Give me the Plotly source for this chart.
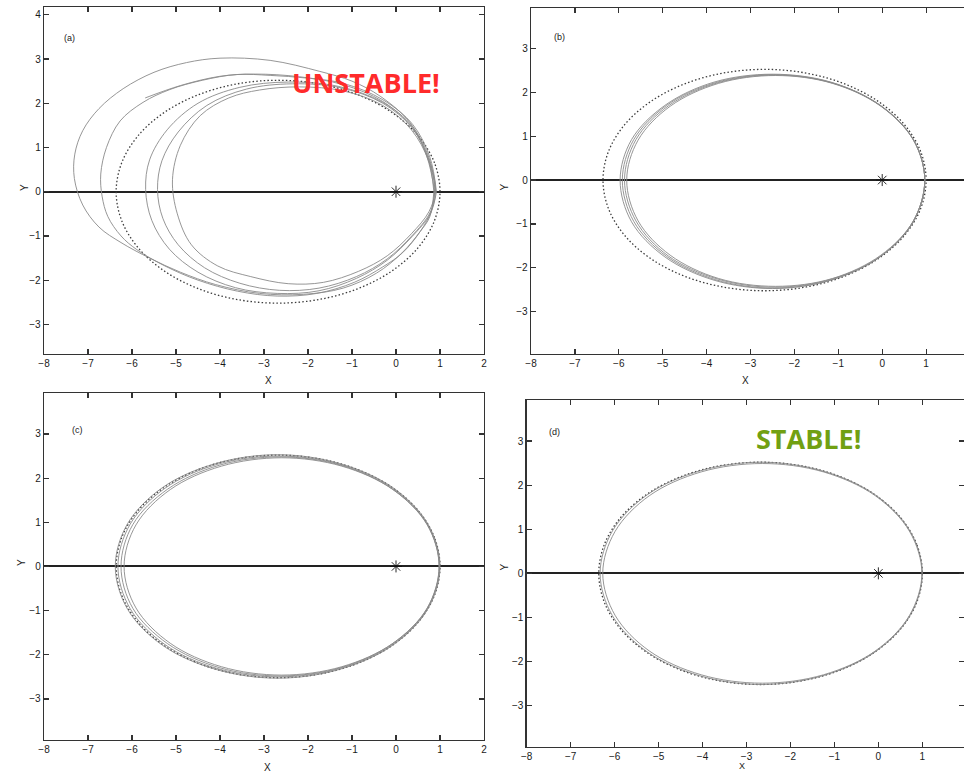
import plotly.graph_objects as go

# ---------------- data ----------------
# reference (dotted) Kepler orbit, same in all panels
ref_x = [1.00, 0.875, 0.507, -0.078, -0.84, -1.728, -2.68, -3.632, -4.52, -5.282, -5.867, -6.235, -6.36,
         -6.235, -5.867, -5.282, -4.52, -3.632, -2.68, -1.728, -0.84, -0.078, 0.507, 0.875, 1.00]
ref_y = [0.0, 0.652, 1.26, 1.782, 2.182, 2.434, 2.52, 2.434, 2.182, 1.782, 1.26, 0.652, 0.0,
         -0.652, -1.26, -1.782, -2.182, -2.434, -2.52, -2.434, -2.182, -1.782, -1.26, -0.652, 0.0]

# panel (a): unstable trajectory, loop by loop
a1_x = [0.88, 0.74, 0.35, -0.30, -1.20, -2.20, -3.10, -3.80, -4.45, -4.90, -5.08, -4.97, -4.65, -4.05, -3.30, -2.45, -1.65, -0.85, -0.20, 0.35, 0.75, 0.88]
a1_y = [0.00, 0.70, 1.40, 1.95, 2.28, 2.37, 2.30, 2.12, 1.72, 1.05, 0.27, -0.50, -1.20, -1.68, -1.92, -2.08, -2.05, -1.80, -1.45, -0.95, -0.45, 0.00]
a2_x = [0.90, 0.75, 0.36, -0.30, -1.25, -2.35, -3.40, -4.30, -4.95, -5.32, -5.42, -5.30, -4.95, -4.35, -3.55, -2.65, -1.75, -0.90, -0.20, 0.36, 0.77, 0.90]
a2_y = [0.00, 0.72, 1.45, 2.00, 2.35, 2.44, 2.32, 1.95, 1.35, 0.70, 0.05, -0.60, -1.20, -1.72, -2.07, -2.23, -2.18, -1.92, -1.52, -1.00, -0.48, 0.00]
a3_x = [0.90, 0.76, 0.37, -0.30, -1.30, -2.45, -3.55, -4.50, -5.20, -5.60, -5.69, -5.55, -5.15, -4.50, -3.65, -2.70, -1.75, -0.90, -0.20, 0.36, 0.78, 0.92]
a3_y = [0.00, 0.74, 1.48, 2.02, 2.38, 2.48, 2.36, 2.00, 1.40, 0.72, 0.05, -0.65, -1.30, -1.82, -2.17, -2.30, -2.24, -1.96, -1.55, -1.02, -0.50, 0.00]
a4_x = [0.92, 0.77, 0.38, -0.30, -1.20, -2.03, -2.86, -3.62, -4.40, -5.14, -5.75, -6.27, -6.58, -6.71, -6.68, -6.55, -6.25, -5.89, -5.25, -4.50, -3.60, -2.70, -1.80, -0.95, -0.30, 0.15, 0.55, 0.80, 0.88]
a4_y = [0.00, 0.78, 1.52, 2.08, 2.45, 2.57, 2.63, 2.65, 2.52, 2.31, 2.02, 1.60, 1.00, 0.40, -0.10, -0.56, -1.00, -1.31, -1.68, -2.00, -2.25, -2.36, -2.30, -2.05, -1.70, -1.38, -0.90, -0.45, 0.00]
a5_x = [0.88, 0.70, 0.32, -0.36, -1.00, -1.73, -2.86, -4.00, -4.76, -5.50, -6.20, -6.75, -7.12, -7.30, -7.31, -7.12, -6.75, -6.25, -5.60, -4.90, -4.10, -3.10, -2.10, -1.20, -0.44, 0.13, 0.55, 0.77, 0.86]
a5_y = [0.00, 0.80, 1.56, 2.16, 2.50, 2.72, 2.97, 3.02, 2.92, 2.70, 2.33, 1.88, 1.38, 0.85, 0.30, -0.30, -0.80, -1.15, -1.50, -1.82, -2.10, -2.30, -2.32, -2.18, -1.84, -1.39, -0.90, -0.56, 0.00]
a6_x = [0.86, 0.74, 0.36, -0.30, -1.20, -2.20, -3.20, -4.00, -4.90, -5.70]
a6_y = [0.00, 0.72, 1.46, 2.04, 2.42, 2.60, 2.66, 2.61, 2.40, 2.12]

# panel (b)
b1_x = [0.97, 0.71, -0.03, -1.13, -2.43, -3.73, -4.83, -5.56, -5.82, -5.56, -4.83, -3.73, -2.43, -1.13, -0.03, 0.71, 0.97]
b1_y = [0.0, 0.91, 1.68, 2.20, 2.38, 2.20, 1.68, 0.91, 0.0, -0.93, -1.71, -2.24, -2.42, -2.24, -1.71, -0.93, 0.0]
b2_x = [0.97, 0.71, -0.03, -1.14, -2.45, -3.76, -4.87, -5.61, -5.87, -5.61, -4.87, -3.76, -2.45, -1.14, -0.03, 0.71, 0.97]
b2_y = [0.0, 0.92, 1.69, 2.21, 2.39, 2.21, 1.69, 0.92, 0.0, -0.93, -1.73, -2.25, -2.44, -2.25, -1.73, -0.93, 0.0]
b3_x = [0.97, 0.71, -0.04, -1.16, -2.48, -3.79, -4.91, -5.66, -5.92, -5.66, -4.91, -3.79, -2.48, -1.16, -0.04, 0.71, 0.97]
b3_y = [0.0, 0.92, 1.70, 2.22, 2.40, 2.22, 1.70, 0.92, 0.0, -0.94, -1.74, -2.27, -2.46, -2.27, -1.74, -0.94, 0.0]
b4_x = [0.97, 0.71, -0.05, -1.17, -2.50, -3.83, -4.95, -5.71, -5.97, -5.71, -4.95, -3.83, -2.50, -1.17, -0.05, 0.71, 0.97]
b4_y = [0.0, 0.92, 1.70, 2.23, 2.41, 2.23, 1.70, 0.92, 0.0, -0.95, -1.75, -2.28, -2.47, -2.28, -1.75, -0.95, 0.0]

# panel (c)
c1_x = [0.98, 0.71, -0.07, -1.23, -2.60, -3.97, -5.13, -5.91, -6.18, -5.91, -5.13, -3.97, -2.60, -1.23, -0.07, 0.71, 0.98]
c1_y = [0.0, 0.94, 1.74, 2.27, 2.46, 2.27, 1.74, 0.94, 0.0, -0.94, -1.74, -2.27, -2.46, -2.27, -1.74, -0.94, 0.0]
c2_x = [0.98, 0.71, -0.08, -1.25, -2.64, -4.02, -5.19, -5.98, -6.25, -5.98, -5.19, -4.02, -2.64, -1.25, -0.08, 0.71, 0.98]
c2_y = [0.0, 0.95, 1.75, 2.29, 2.48, 2.29, 1.75, 0.95, 0.0, -0.95, -1.75, -2.29, -2.48, -2.29, -1.75, -0.95, 0.0]
c3_x = [0.99, 0.71, -0.08, -1.27, -2.67, -4.07, -5.25, -6.04, -6.32, -6.04, -5.25, -4.07, -2.67, -1.27, -0.08, 0.71, 0.99]
c3_y = [0.0, 0.96, 1.77, 2.31, 2.50, 2.31, 1.77, 0.96, 0.0, -0.96, -1.77, -2.31, -2.50, -2.31, -1.77, -0.96, 0.0]
c4_x = [1.00, 0.72, -0.08, -1.28, -2.69, -4.10, -5.30, -6.10, -6.38, -6.10, -5.30, -4.10, -2.69, -1.28, -0.08, 0.72, 1.00]
c4_y = [0.0, 0.97, 1.79, 2.33, 2.53, 2.33, 1.79, 0.97, 0.0, -0.97, -1.79, -2.33, -2.53, -2.33, -1.79, -0.97, 0.0]

# panel (d)
d1_x = [0.99, 0.71, -0.07, -1.25, -2.64, -4.03, -5.21, -5.99, -6.27, -5.99, -5.21, -4.03, -2.64, -1.25, -0.07, 0.71, 0.99]
d1_y = [0.0, 0.95, 1.76, 2.30, 2.49, 2.30, 1.76, 0.95, 0.0, -0.95, -1.76, -2.30, -2.49, -2.30, -1.76, -0.95, 0.0]
d2_x = [1.00, 0.72, -0.07, -1.26, -2.67, -4.07, -5.26, -6.05, -6.33, -6.05, -5.26, -4.07, -2.67, -1.26, -0.07, 0.72, 1.00]
d2_y = [0.0, 0.96, 1.78, 2.32, 2.52, 2.32, 1.78, 0.96, 0.0, -0.96, -1.78, -2.32, -2.52, -2.32, -1.78, -0.96, 0.0]

star_x = [0]
star_y = [0]

x_ticks = [-8, -7, -6, -5, -4, -3, -2, -1, 0, 1, 2]
y_ticks = [-3, -2, -1, 0, 1, 2, 3, 4]
panel_labels = ["(a)", "(b)", "(c)", "(d)"]

# ---------------- figure ----------------
W, H = 964, 772
fig = go.Figure()

panels = [
    dict(xa="x", ya="y", loops=[(a1_x, a1_y), (a2_x, a2_y), (a3_x, a3_y), (a4_x, a4_y), (a5_x, a5_y), (a6_x, a6_y)],
         xdom=[44 / W, 484 / W], ydom=[1 - 354 / H, 1 - 7.3 / H], xr=[-8, 2], yr=[-3.67, 4.17],
         lab=(-7.41, 3.48), xt=(264, 380), yt=(17, 182), ymir="ticks"),
    dict(xa="x2", ya="y2", loops=[(b1_x, b1_y), (b2_x, b2_y), (b3_x, b3_y), (b4_x, b4_y)],
         xdom=[531 / W, 1.0], ydom=[1 - 354 / H, 1 - 8.3 / H], xr=[-8, 1.863], yr=[-3.96, 3.91],
         lab=(-7.34, 3.25), xt=(750, 380), yt=(504, 182), ymir=True),
    dict(xa="x3", ya="y3", loops=[(c1_x, c1_y), (c2_x, c2_y), (c3_x, c3_y), (c4_x, c4_y)],
         xdom=[44 / W, 484 / W], ydom=[1 - 740 / H, 1 - 393.3 / H], xr=[-8, 2], yr=[-3.93, 3.92],
         lab=(-7.23, 3.08), xt=(263, 767), yt=(14, 568), ymir="ticks"),
    dict(xa="x4", ya="y4", loops=[(d1_x, d1_y), (d2_x, d2_y)],
         xdom=[526.7 / W, 1.0], ydom=[1 - 746.7 / H, 1 - 400 / H], xr=[-8, 1.948], yr=[-3.93, 3.93],
         lab=(-7.37, 3.21), xt=(746, 772), yt=(504, 573), ymir="ticks"),
]

tickfont = dict(family="Liberation Sans, Arial, sans-serif", size=10, color="#1a1a1a")
annotations = []
for i, p in enumerate(panels):
    # dotted reference orbit
    fig.add_trace(go.Scatter(x=ref_x, y=ref_y, xaxis=p["xa"], yaxis=p["ya"], mode="lines",
                             line=dict(color="#3c3c3c", width=1.3, dash="1.5px,2.2px", shape="spline"),
                             hoverinfo="skip"))
    for lx, ly in p["loops"]:
        fig.add_trace(go.Scatter(x=lx, y=ly, xaxis=p["xa"], yaxis=p["ya"], mode="lines",
                                 line=dict(color="#8a8a8a", width=0.9, shape="spline"),
                                 hoverinfo="skip"))
    fig.add_trace(go.Scatter(x=star_x, y=star_y, xaxis=p["xa"], yaxis=p["ya"], mode="markers",
                             marker=dict(symbol="asterisk-open", size=10, color="#111",
                                         line=dict(color="#111", width=0.9)),
                             hoverinfo="skip"))
    sfx = "" if i == 0 else str(i + 1)
    fig.layout["xaxis" + sfx] = dict(
        domain=p["xdom"], range=p["xr"], anchor=p["ya"], tickmode="array", tickvals=x_ticks,
        ticks="inside", ticklen=5, tickwidth=1.2, tickcolor="#333", showline=True, linecolor="#333",
        linewidth=1.3, mirror="ticks", showgrid=False, zeroline=False, tickfont=tickfont,
        fixedrange=True, automargin=False)
    fig.layout["yaxis" + sfx] = dict(
        domain=p["ydom"], range=p["yr"], anchor=p["xa"], tickmode="array", tickvals=y_ticks,
        ticks="inside", ticklen=5, tickwidth=1.2, tickcolor="#333", showline=True, linecolor="#333",
        linewidth=1.3, mirror=p["ymir"], showgrid=False, zeroline=True, zerolinecolor="#222",
        zerolinewidth=2, tickfont=tickfont, fixedrange=True, automargin=False)
    annotations.append(dict(text=panel_labels[i], x=p["lab"][0], y=p["lab"][1], xref=p["xa"], yref=p["ya"],
                            showarrow=False, font=dict(family="Liberation Sans, Arial", size=9, color="#222")))
    is_bottom_edge = p["xt"][1] >= 772
    annotations.append(dict(text="X", x=p["xt"][0] / W, y=1 - p["xt"][1] / H, xref="paper", yref="paper",
                            yanchor="bottom" if is_bottom_edge else "middle", borderpad=0,
                            showarrow=False, font=dict(family="Liberation Sans, Arial",
                                                       size=9 if is_bottom_edge else 10, color="#1a1a1a")))
    annotations.append(dict(text="Y", x=p["yt"][0] / W, y=1 - p["yt"][1] / H, xref="paper", yref="paper",
                            textangle=-90, showarrow=False,
                            font=dict(family="Liberation Sans, Arial", size=10, color="#1a1a1a")))

annotations.append(dict(text="<b>UNSTABLE!</b>", x=366 / W, y=1 - 62 / H, xref="paper", yref="paper",
                        showarrow=False, font=dict(family="Open Sans", size=27, color="#FF2B2B")))
annotations.append(dict(text="<b>STABLE!</b>", x=863 / W, y=1 - 438 / H, xref="paper", yref="paper",
                        showarrow=False, font=dict(family="Open Sans", size=27, color="#71A012")))

fig.update_layout(width=W, height=H, margin=dict(l=0, r=0, t=0, b=0, autoexpand=False), showlegend=False,
                  paper_bgcolor="white", plot_bgcolor="white", annotations=annotations)

fig.write_html("out.html", config={"displayModeBar": False, "staticPlot": True},
               post_script="document.body.style.margin='0';document.body.style.overflow='hidden';")
